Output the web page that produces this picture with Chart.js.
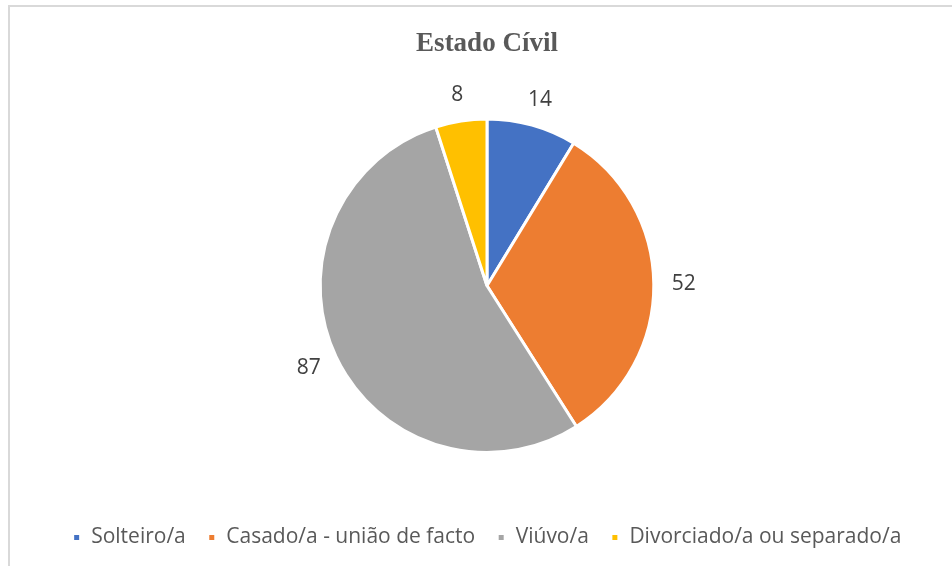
<!DOCTYPE html>
<html>
<head>
<meta charset="utf-8">
<script src="https://cdn.jsdelivr.net/npm/chart.js@4"></script>
<style>
  html, body { margin: 0; padding: 0; background: #fff; }
  #wrap { position: relative; width: 952px; height: 566px; }
  #frame { position: absolute; left: 8px; top: 5px; right: 0; bottom: 0;
           border-top: 2px solid #d9d9d9; border-left: 2px solid #d9d9d9; }
  canvas { position: absolute; left: 0; top: 0; }
</style>
</head>
<body>
<div id="wrap">
  <div id="frame"></div>
  <canvas id="pie" width="952" height="566"></canvas>
</div>
<script>
const categories = ["Solteiro/a", "Casado/a - união de facto", "Viúvo/a", "Divorciado/a ou separado/a"];
const counts = [14, 52, 87, 8];
const sliceColors = ["#4472C4", "#ED7D31", "#A5A5A5", "#FFC000"];

// numbers just outside each slice, box edge kept a fixed gap from the rim
const outsideLabels = {
  id: "outsideLabels",
  afterDatasetsDraw(chart) {
    const { ctx } = chart;
    const arcs = chart.getDatasetMeta(0).data;
    ctx.save();
    ctx.font = "21px 'Open Sans'";
    ctx.fillStyle = "#404040";
    ctx.textAlign = "center";
    ctx.textBaseline = "middle";
    arcs.forEach((arc, i) => {
      const txt = String(counts[i]);
      const w = ctx.measureText(txt).width;
      const h = 16;
      const mid = (arc.startAngle + arc.endAngle) / 2;
      const c = Math.cos(mid), s = Math.sin(mid);
      const r = arc.outerRadius + 18;
      ctx.fillText(txt, arc.x + c * r + c * w / 2, arc.y + s * r + s * h / 2);
    });
    ctx.restore();
  }
};

new Chart(document.getElementById("pie"), {
  type: "pie",
  data: {
    labels: categories,
    datasets: [{
      data: counts,
      backgroundColor: sliceColors,
      borderColor: "#ffffff",
      borderWidth: 3
    }]
  },
  options: {
    responsive: false,
    animation: false,
    layout: { padding: { left: 30, right: 8, top: 0, bottom: 8 } },
    plugins: {
      title: {
        display: true,
        text: "Estado Cívil",
        color: "#595959",
        font: { family: "'Liberation Serif'", size: 27, weight: "bold" },
        padding: { top: 28, bottom: 57 }
      },
      legend: {
        position: "bottom",
        title: { display: true, text: "", font: { size: 10 }, padding: { top: 39, bottom: 0 } },
        labels: {
          color: "#595959",
          font: { family: "'Open Sans'", size: 21 },
          boxWidth: 8,
          boxHeight: 8,
          padding: 22
        }
      },
      tooltip: { enabled: false }
    }
  },
  plugins: [outsideLabels]
});
</script>
</body>
</html>
